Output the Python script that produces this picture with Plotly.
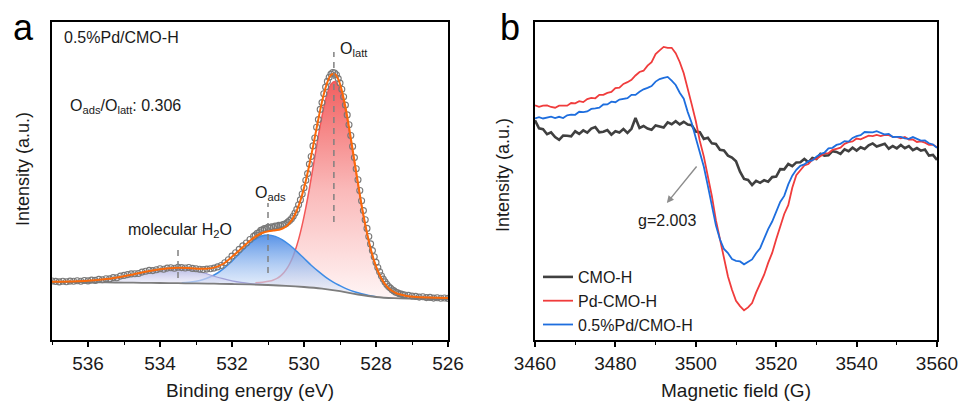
import plotly.graph_objects as go

FONT = "Arial, Liberation Sans, sans-serif"

# ---------------- Panel a: O 1s XPS of 0.5%Pd/CMO-H ----------------
# measured spectrum (binding energy in eV, intensity in a.u.)
be_data_left = [537.0, 536.9, 536.8, 536.7, 536.6, 536.5, 536.4, 536.3, 536.2, 536.1,
                536.0, 535.9, 535.8, 535.7, 535.6, 535.5, 535.4, 535.3, 535.2, 535.1,
                535.0, 534.9, 534.8, 534.7, 534.6, 534.5, 534.4, 534.3, 534.2, 534.1,
                534.0, 533.9, 533.8, 533.7, 533.6, 533.5, 533.4, 533.3, 533.2, 533.1,
                533.0, 532.9, 532.8, 532.7, 532.6, 532.5, 532.4, 532.3, 532.2, 532.1,
                532.0, 531.9, 531.8, 531.7, 531.6, 531.5, 531.4]
int_data_left = [59.0, 58.6, 58.1, 58.8, 58.3, 58.9, 58.7, 59.3, 58.8, 59.5,
                 59.1, 59.9, 59.6, 60.6, 60.3, 61.2, 61.1, 62.4, 62.3, 63.9,
                 64.6, 65.4, 66.1, 66.3, 66.5, 67.9, 68.8, 69.6, 69.4, 70.3,
                 71.2, 70.8, 71.9, 72.3, 71.8, 72.7, 72.4, 72.0, 72.5, 71.6,
                 71.2, 70.8, 70.5, 70.9, 71.2, 71.9, 73.1, 74.5, 77.3, 80.2,
                 83.9, 87.3, 90.6, 94.1, 97.0, 100.5, 103.6]
be_data_mid = [531.35, 531.30, 531.25, 531.20, 531.15, 531.10, 531.05, 531.00,
               530.95, 530.90, 530.85, 530.80, 530.75, 530.70, 530.65, 530.60, 530.55, 530.50,
               530.45, 530.40, 530.35, 530.30, 530.25, 530.20, 530.15, 530.10, 530.05, 530.00,
               529.95, 529.90, 529.85, 529.80, 529.75, 529.70, 529.65, 529.60, 529.55, 529.50,
               529.45, 529.40, 529.35, 529.30, 529.25, 529.20, 529.15, 529.10, 529.05, 529.00,
               528.95, 528.90, 528.85, 528.80, 528.75, 528.70, 528.65, 528.60, 528.55, 528.50,
               528.45, 528.40, 528.35, 528.30, 528.25, 528.20, 528.15, 528.10, 528.05, 528.00,
               527.95, 527.90, 527.85, 527.80, 527.75, 527.70, 527.65, 527.60, 527.55, 527.50,
               527.45, 527.40, 527.35, 527.30, 527.25, 527.20]
int_data_mid = [104.9, 106.8, 107.5, 109.6, 110.1, 111.4, 111.2, 112.6,
                112.1, 113.3, 112.8, 113.9, 113.5, 114.6, 114.2, 115.3, 115.6, 116.5,
                117.9, 119.4, 121.2, 123.8, 127.0, 130.6, 135.2, 140.1, 146.0, 152.3,
                159.8, 166.4, 175.9, 183.5, 194.1, 202.0, 212.8, 220.4, 230.6, 237.4,
                246.3, 252.9, 258.6, 262.8, 265.9, 267.5, 267.0, 265.3, 261.4, 256.9,
                250.8, 243.2, 234.9, 225.1, 215.2, 204.5, 193.6, 182.4, 171.3, 160.2,
                149.5, 139.3, 129.4, 120.2, 111.6, 103.5, 96.1, 89.4, 83.2, 77.6,
                72.5, 68.2, 64.3, 60.9, 58.1, 55.6, 53.4, 51.9, 50.2, 49.1,
                47.8, 47.2, 46.3, 45.9, 45.2, 45.0]
be_data_right = [527.1, 527.0, 526.9, 526.8, 526.7, 526.6, 526.5, 526.4, 526.3, 526.2, 526.1, 526.0]
int_data_right = [44.6, 43.9, 43.6, 42.9, 43.2, 42.4, 42.6, 41.9, 42.3, 41.7, 42.0, 41.6]

# Shirley-type background
be_bg = [537.0, 536.5, 536.0, 535.5, 535.0, 534.5, 534.0, 533.5, 533.0, 532.5, 532.0, 531.5,
         531.0, 530.5, 530.0, 529.5, 529.0, 528.5, 528.0, 527.5, 527.0, 526.5, 526.0]
int_bg = [58.0, 58.0, 57.8, 57.6, 57.4, 57.2, 57.0, 56.8, 56.6, 56.3, 56.0, 55.6,
          55.0, 54.2, 53.0, 51.3, 48.8, 45.5, 43.0, 41.8, 41.3, 41.0, 41.0]

# molecular H2O component (~533.5 eV)
be_h2o = [537.0, 536.5, 536.25, 536.0, 535.75, 535.5, 535.25, 535.0, 534.75, 534.5, 534.25, 534.0,
          533.75, 533.5, 533.25, 533.0, 532.75, 532.5, 532.25, 532.0, 531.75, 531.5, 531.25, 531.0]
int_h2o = [58.1, 58.5, 58.8, 59.2, 59.9, 60.9, 62.2, 63.8, 65.6, 67.5, 69.2, 70.7,
           71.6, 71.8, 71.1, 69.2, 66.7, 63.8, 61.3, 59.2, 57.6, 56.5, 55.8, 55.2]
bg_h2o = [58.0, 58.0, 57.9, 57.8, 57.7, 57.6, 57.5, 57.4, 57.3, 57.2, 57.1, 57.0,
          56.9, 56.8, 56.7, 56.6, 56.45, 56.3, 56.15, 56.0, 55.8, 55.6, 55.3, 55.0]

# adsorbed oxygen component (~531.0 eV)
be_ads = [533.4, 533.2, 533.0, 532.8, 532.6, 532.4, 532.2, 532.0, 531.8, 531.6, 531.4, 531.2,
          531.0, 530.8, 530.6, 530.4, 530.2, 530.0, 529.8, 529.6, 529.4, 529.2, 529.0, 528.8,
          528.6, 528.4, 528.2, 528.0]
int_ads = [57.3, 57.8, 58.8, 60.5, 63.2, 67.0, 72.3, 78.9, 86.1, 93.4, 99.6, 103.8,
           105.0, 103.6, 100.2, 95.0, 88.6, 81.7, 74.8, 68.6, 62.9, 58.1, 54.3, 50.9,
           48.3, 46.2, 44.6, 43.3]
bg_ads = [56.76, 56.68, 56.6, 56.5, 56.36, 56.24, 56.12, 56.0, 55.84, 55.68, 55.5, 55.25,
          55.0, 54.7, 54.4, 54.0, 53.5, 53.0, 52.3, 51.7, 50.8, 49.8, 48.8, 47.5,
          46.2, 45.0, 44.0, 43.0]

# lattice oxygen component (~529.2 eV)
be_latt = [531.35, 531.15, 530.95, 530.85, 530.75, 530.65, 530.55, 530.45, 530.35, 530.25,
           530.15, 530.05, 529.95, 529.85, 529.75, 529.65, 529.55, 529.45, 529.35, 529.25,
           529.15, 529.05, 528.95, 528.85, 528.75, 528.65, 528.55, 528.45, 528.35, 528.25,
           528.15, 528.05, 527.95, 527.85, 527.75, 527.65, 527.55, 527.45, 527.35, 527.15,
           526.95, 526.55, 526.0]
int_latt = [57.3, 57.8, 58.9, 60.0, 61.6, 64.1, 67.7, 72.8, 79.7, 88.9,
            100.6, 115.1, 132.1, 151.5, 172.4, 193.7, 214.3, 232.5, 246.7, 255.8,
            258.6, 254.8, 244.7, 229.3, 210.0, 188.4, 166.1, 144.3, 124.1, 106.3,
            91.0, 78.6, 68.8, 61.4, 55.8, 51.8, 49.0, 47.0, 45.7, 44.1,
            43.2, 42.4, 42.0]
bg_latt = [55.4, 55.2, 54.9, 54.8, 54.6, 54.5, 54.3, 54.1, 53.9, 53.6,
           53.4, 53.1, 52.8, 52.5, 52.2, 51.8, 51.5, 51.0, 50.5, 50.1,
           49.6, 49.1, 48.5, 47.8, 47.2, 46.5, 45.9, 45.3, 44.8, 44.3,
           43.8, 43.3, 43.0, 42.7, 42.4, 42.2, 42.0, 41.8, 41.7, 41.5,
           41.3, 41.0, 41.0]

# cumulative fit envelope
be_fit = [537.0, 536.5, 536.0, 535.5, 535.0, 534.75, 534.5, 534.25, 534.0, 533.75,
          533.5, 533.25, 533.0, 532.75, 532.5, 532.25, 532.0, 531.75, 531.5] + be_latt
int_fit = [58.2, 58.5, 59.2, 60.9, 63.8, 65.6, 67.5, 69.2, 70.7, 71.7,
           72.2, 72.0, 71.4, 71.3, 72.4, 76.0, 83.3, 91.2, 99.3,
           103.3, 107.2, 109.0, 109.4, 109.9, 110.8, 112.4, 115.1, 119.3, 125.5,
           134.1, 145.4, 159.2, 175.5, 193.4, 211.9, 229.9, 245.7, 257.8, 265.0,
           266.1, 260.9, 249.6, 233.2, 213.0, 190.7, 167.9, 145.7, 125.1, 107.1,
           91.6, 79.0, 69.1, 61.6, 55.9, 51.8, 49.0, 47.0, 45.7, 44.1,
           43.2, 42.4, 42.0]

# ---------------- Panel b: EPR spectra ----------------
field = list(range(3460, 3561))
epr_cmo = [219.8, 211.6, 210.9, 205.8, 207.7, 202.9, 200.1, 204.5, 204.3, 203.7,
           208.7, 206.1, 209.6, 207.4, 211.4, 212.9, 207.6, 208.3, 209.9, 205.3,
           208.8, 207.5, 210.9, 207.1, 211.2, 222.0, 212.1, 214.0, 211.4, 210.2,
           214.6, 213.7, 212.5, 217.6, 215.7, 218.8, 215.6, 218.2, 215.4, 214.8,
           208.4, 207.9, 201.1, 202.2, 196.6, 196.1, 190.2, 189.5, 184.4, 182.4,
           178.8, 168.3, 161.1, 160.0, 155.0, 159.2, 157.2, 159.8, 158.3, 162.9,
           163.4, 170.9, 170.6, 176.0, 173.8, 177.6, 177.8, 181.0, 177.7, 182.1,
           181.0, 186.2, 184.4, 184.7, 188.8, 188.1, 186.1, 190.6, 188.7, 192.3,
           189.5, 192.8, 191.0, 194.7, 196.6, 193.4, 194.6, 196.2, 191.3, 194.0,
           191.7, 195.1, 191.8, 194.0, 189.8, 191.9, 189.3, 190.4, 184.4, 185.0,
           180.1]
epr_pd = [234.6, 233.1, 234.3, 234.6, 233.0, 232.3, 234.3, 234.2, 234.3, 237.0,
          236.7, 238.9, 237.9, 240.9, 242.2, 241.7, 245.2, 245.1, 247.1, 248.0,
          251.8, 252.4, 256.1, 257.8, 260.1, 264.5, 268.0, 269.3, 274.3, 277.9,
          285.9, 289.6, 293.1, 292.2, 292.2, 286.9, 278.0, 266.7, 252.2, 235.4,
          219.0, 199.1, 183.4, 163.7, 143.8, 119.8, 100.5, 82.1, 63.5, 50.2,
          39.2, 33.9, 29.7, 32.6, 37.0, 47.4, 57.2, 65.3, 77.1, 87.1,
          100.7, 112.8, 126.0, 134.9, 152.3, 164.8, 169.4, 174.5, 176.0, 180.4,
          181.1, 183.7, 186.6, 186.7, 190.1, 191.2, 192.3, 196.2, 197.9, 198.5,
          201.5, 200.6, 202.8, 204.3, 203.8, 205.1, 203.9, 205.1, 204.9, 203.1,
          203.2, 201.7, 203.1, 200.4, 200.5, 198.0, 198.7, 197.3, 195.1, 195.4,
          192.8]
epr_pd05 = [221.5, 222.8, 221.5, 222.8, 223.4, 221.9, 223.2, 221.9, 224.7, 225.4,
            225.2, 228.2, 227.8, 228.6, 231.1, 231.6, 232.3, 235.5, 235.6, 238.3,
            237.8, 240.5, 241.3, 241.9, 245.1, 245.1, 248.2, 250.7, 252.2, 254.0,
            258.4, 260.9, 262.2, 263.1, 259.3, 255.0, 247.3, 241.3, 227.9, 216.8,
            202.1, 187.5, 173.2, 154.1, 133.4, 114.6, 100.7, 91.0, 86.9, 80.9,
            79.2, 78.6, 75.7, 78.5, 80.6, 86.7, 91.8, 101.3, 110.9, 118.5,
            128.9, 138.0, 144.1, 155.6, 164.3, 170.2, 174.1, 175.6, 178.8, 179.5,
            183.3, 186.0, 187.4, 191.7, 192.2, 195.1, 196.2, 198.9, 198.4, 202.1,
            203.9, 204.8, 208.0, 207.8, 207.6, 208.8, 207.3, 205.5, 206.1, 203.0,
            203.2, 203.2, 201.6, 201.2, 202.9, 201.1, 199.4, 199.5, 196.7, 195.5,
            192.1]

xa_ticks = [536, 534, 532, 530, 528, 526]
xb_ticks = [3460, 3480, 3500, 3520, 3540, 3560]

fig = go.Figure()


def baseline(x, y):
    fig.add_trace(go.Scatter(x=x, y=y, mode="lines", line=dict(width=0, color="rgba(0,0,0,0)"),
                             line_shape="spline", hoverinfo="skip", showlegend=False,
                             xaxis="x", yaxis="y"))


# O_latt component with vertical gradient fill
baseline(be_latt, bg_latt)
fig.add_trace(go.Scatter(
    x=be_latt, y=int_latt, mode="lines", line=dict(color="rgb(243,88,88)", width=1.5),
    line_shape="spline", fill="tonexty",
    fillgradient=dict(type="vertical", start=42, stop=259,
                      colorscale=[[0, "rgba(255,245,245,1)"], [0.5, "rgba(250,185,185,1)"],
                                  [1, "rgba(242,95,95,1)"]]),
    showlegend=False, xaxis="x", yaxis="y"))

# O_ads component
baseline(be_ads, bg_ads)
fig.add_trace(go.Scatter(
    x=be_ads, y=int_ads, mode="lines", line=dict(color="rgb(62,140,230)", width=1.5),
    line_shape="spline", fill="tonexty",
    fillgradient=dict(type="vertical", start=44, stop=105,
                      colorscale=[[0, "rgba(235,242,252,0.55)"], [1, "rgba(70,135,228,0.9)"]]),
    showlegend=False, xaxis="x", yaxis="y"))

# molecular H2O component
baseline(be_h2o, bg_h2o)
fig.add_trace(go.Scatter(
    x=be_h2o, y=int_h2o, mode="lines", line=dict(color="rgb(160,160,215)", width=1.2),
    line_shape="spline", fill="tonexty",
    fillgradient=dict(type="vertical", start=55, stop=72,
                      colorscale=[[0, "rgba(238,238,250,0.6)"], [1, "rgba(170,172,222,0.85)"]]),
    showlegend=False, xaxis="x", yaxis="y"))

# background
fig.add_trace(go.Scatter(x=be_bg, y=int_bg, mode="lines", line=dict(color="rgb(125,125,125)", width=1.8),
                         line_shape="spline", showlegend=False, xaxis="x", yaxis="y"))

# raw data
fig.add_trace(go.Scatter(
    x=be_data_left + be_data_mid + be_data_right,
    y=int_data_left + int_data_mid + int_data_right,
    mode="markers",
    marker=dict(symbol="circle-open", size=6, color="rgb(120,120,120)", line=dict(width=1.1)),
    showlegend=False, xaxis="x", yaxis="y"))

# fit envelope
fig.add_trace(go.Scatter(x=be_fit, y=int_fit, mode="lines", line=dict(color="rgb(250,105,10)", width=2),
                         line_shape="spline", showlegend=False, xaxis="x", yaxis="y"))

# EPR traces
fig.add_trace(go.Scatter(x=field, y=epr_cmo, mode="lines", name="CMO-H",
                         line=dict(color="rgb(64,64,64)", width=2.6), xaxis="x2", yaxis="y2"))
fig.add_trace(go.Scatter(x=field, y=epr_pd, mode="lines", name="Pd-CMO-H",
                         line=dict(color="rgb(240,60,60)", width=1.8), xaxis="x2", yaxis="y2"))
fig.add_trace(go.Scatter(x=field, y=epr_pd05, mode="lines", name="0.5%Pd/CMO-H",
                         line=dict(color="rgb(30,110,222)", width=1.8), xaxis="x2", yaxis="y2"))

# peak position markers (dashed)
dash = "6px,5px"
for xpos, y0, y1 in [(533.5, 62, 95), (531.0, 67, 137), (529.17, 118, 288)]:
    fig.add_shape(type="line", xref="x", yref="y", x0=xpos, x1=xpos, y0=y0, y1=y1,
                  line=dict(color="rgb(128,128,128)", width=1.5, dash=dash))

txt = dict(family=FONT, size=16, color="#1a1a1a")
annos = [
    dict(x=536.72, y=303, xref="x", yref="y", text="0.5%Pd/CMO-H", xanchor="left", yanchor="middle"),
    dict(x=536.56, y=234, xref="x", yref="y", text="O<sub>ads</sub>/O<sub>latt</sub>: 0.306",
         xanchor="left", yanchor="middle"),
    dict(x=533.45, y=110, xref="x", yref="y", text="molecular H<sub>2</sub>O", xanchor="center", yanchor="middle"),
    dict(x=530.94, y=147, xref="x", yref="y", text="O<sub>ads</sub>", xanchor="center", yanchor="middle"),
    dict(x=529.05, y=291, xref="x", yref="y", text="O<sub>latt</sub>", xanchor="left", yanchor="middle"),
    dict(x=3492.8, y=120, xref="x2", yref="y2", text="g=2.003", xanchor="center", yanchor="middle"),
]
for a in annos:
    a.update(showarrow=False, font=txt)
    fig.add_annotation(**a)

# arrow pointing at g=2.003
fig.add_annotation(x=3492.8, y=137, ax=3500.5, ay=175, xref="x2", yref="y2", axref="x2", ayref="y2",
                   text="", showarrow=True, arrowhead=2, arrowsize=1, arrowwidth=1.4,
                   arrowcolor="rgb(140,140,140)")

# panel letters and y titles
fig.add_annotation(x=23 / 959, y=1 - 28 / 401, xref="paper", yref="paper", text="a", showarrow=False,
                   font=dict(family=FONT, size=36, color="black"), xanchor="center", yanchor="middle")
fig.add_annotation(x=510 / 959, y=1 - 28 / 401, xref="paper", yref="paper", text="b", showarrow=False,
                   font=dict(family=FONT, size=36, color="black"), xanchor="center", yanchor="middle")
for xp, yp in [(23, 169), (503, 175)]:
    fig.add_annotation(x=xp / 959, y=1 - yp / 401, xref="paper", yref="paper", text="Intensity (a.u.)",
                       textangle=-90, showarrow=False, xanchor="center", yanchor="middle",
                       font=dict(family=FONT, size=18, color="#1a1a1a"))

axis_common = dict(showline=True, mirror=True, linecolor="black", linewidth=1.5, showgrid=False,
                   zeroline=False, automargin=False)
ydom = [1 - 340 / 401, 1 - 22 / 401]
fig.update_layout(
    width=959, height=401, margin=dict(l=0, r=0, t=0, b=0, autoexpand=False),
    paper_bgcolor="white", plot_bgcolor="white",
    font=dict(family=FONT, color="#1a1a1a"),
    xaxis=dict(domain=[52 / 959, 448 / 959], range=[537, 526], anchor="y",
               tickvals=xa_ticks, ticks="outside", ticklen=5, tickwidth=1.5, tickcolor="black",
               minor=dict(dtick=1, ticks="outside", ticklen=3, tickwidth=1.2, tickcolor="black"),
               tickfont=dict(size=19, family=FONT),
               title=dict(text="Binding energy (eV)", font=dict(size=19, family=FONT), standoff=12),
               **axis_common),
    yaxis=dict(domain=ydom, range=[0, 318], anchor="x", showticklabels=False, ticks="", **axis_common),
    xaxis2=dict(domain=[535 / 959, 937 / 959], range=[3460, 3560], anchor="y2",
                tickvals=xb_ticks, ticks="outside", ticklen=5, tickwidth=1.5, tickcolor="black",
                minor=dict(dtick=10, ticks="outside", ticklen=3, tickwidth=1.2, tickcolor="black"),
                tickfont=dict(size=19, family=FONT),
                title=dict(text="Magnetic field (G)", font=dict(size=19, family=FONT), standoff=12),
                **axis_common),
    yaxis2=dict(domain=ydom, range=[0, 318], anchor="x2", showticklabels=False, ticks="", **axis_common),
    legend=dict(x=538 / 959, y=1 - 260 / 401, xanchor="left", yanchor="top", bgcolor="rgba(0,0,0,0)",
                traceorder="normal", font=dict(family=FONT, size=16), tracegroupgap=0, itemwidth=30),
)

fig.write_html("out.html")
